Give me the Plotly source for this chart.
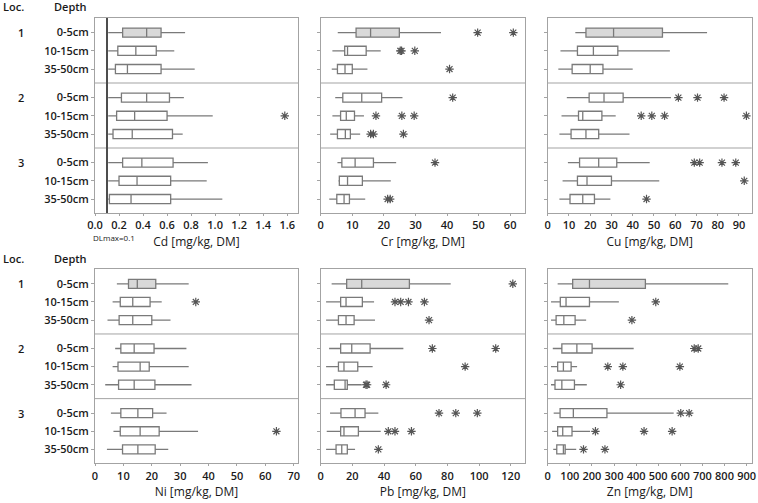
import plotly.graph_objects as go

# ---------------- data ----------------
locs = ["1", "2", "3"]
depths = ["0-5cm", "10-15cm", "35-50cm"]
# order of 9 boxes: loc1 (0-5, 10-15, 35-50), loc2 (...), loc3 (...)

cd_lo  = [0.11, 0.11, 0.11, 0.11, 0.11, 0.11, 0.11, 0.11, 0.11]
cd_q1  = [0.23, 0.19, 0.17, 0.22, 0.18, 0.15, 0.23, 0.20, 0.12]
cd_med = [0.43, 0.34, 0.27, 0.43, 0.33, 0.31, 0.39, 0.35, 0.30]
cd_q3  = [0.55, 0.51, 0.55, 0.62, 0.60, 0.645, 0.65, 0.63, 0.63]
cd_hi  = [0.75, 0.66, 0.83, 0.74, 0.98, 0.73, 0.94, 0.93, 1.06]
cd_out = [[], [], [], [], [1.58], [], [], [], []]

cr_lo  = [5.4, 3.7, 3.5, 4.6, 3.7, 3.0, 5.3, 5.6, 2.7]
cr_q1  = [11.2, 7.6, 5.3, 7.0, 6.3, 5.3, 6.7, 5.9, 5.1]
cr_med = [15.8, 8.5, 7.7, 13.0, 8.1, 7.8, 10.9, 8.5, 7.4]
cr_q3  = [24.9, 14.4, 10.0, 19.3, 10.7, 9.4, 16.7, 13.2, 9.1]
cr_hi  = [38.1, 19.0, 14.8, 25.9, 13.7, 12.5, 23.9, 22.2, 14.1]
cr_out = [[49.7, 61.0], [25.2, 25.6, 29.8], [40.8], [41.8], [17.5, 25.7, 29.6],
          [15.8, 16.7, 26.2], [36.2], [], [21.2, 22.0]]

cu_lo  = [13.0, 6.0, 5.0, 9.0, 6.5, 5.5, 9.5, 7.0, 5.5]
cu_q1  = [18.0, 14.0, 11.5, 19.5, 14.5, 11.0, 15.0, 14.0, 10.5]
cu_med = [31.0, 21.5, 20.0, 26.5, 16.5, 18.0, 24.0, 18.5, 16.5]
cu_q3  = [54.0, 33.0, 26.0, 35.5, 25.5, 24.0, 32.5, 30.0, 22.0]
cu_hi  = [75.0, 57.5, 40.0, 58.0, 32.0, 38.5, 48.0, 52.5, 29.5]
cu_out = [[], [], [], [61.5, 70.5, 83.0], [44.0, 49.0, 55.0, 93.5], [],
          [69.0, 71.5, 82.0, 88.5], [92.5], [46.5]]

ni_lo  = [7.7, 6.2, 4.4, 7.1, 6.2, 3.6, 5.6, 6.5, 4.2]
ni_q1  = [11.8, 8.9, 8.5, 9.1, 8.1, 8.3, 9.1, 8.9, 9.7]
ni_med = [14.9, 13.3, 13.3, 13.8, 15.9, 13.8, 15.1, 15.9, 15.1]
ni_q3  = [21.4, 19.4, 20.0, 20.8, 19.1, 21.1, 20.3, 22.6, 21.2]
ni_hi  = [33.0, 23.5, 26.6, 32.2, 33.0, 34.0, 25.2, 36.3, 25.8]
ni_out = [[], [35.5], [], [], [], [], [], [63.9], []]

pb_lo  = [6.9, 3.4, 3.4, 5.3, 3.4, 3.4, 5.9, 3.8, 3.4]
pb_q1  = [16.4, 12.6, 11.2, 12.6, 11.2, 8.6, 12.8, 12.6, 9.7]
pb_med = [25.9, 16.0, 16.0, 19.6, 14.7, 15.4, 21.7, 14.7, 13.3]
pb_q3  = [56.0, 26.3, 21.1, 31.2, 23.4, 16.8, 28.0, 23.8, 16.8]
pb_hi  = [82.1, 33.7, 34.3, 52.2, 32.8, 25.9, 36.4, 37.9, 21.7]
pb_out = [[121.3], [46.9, 50.5, 55.4, 65.5], [68.4], [70.5, 110.5], [91.2],
          [28.6, 29.3, 41.3], [74.7, 85.3, 98.9], [42.7, 46.9, 57.3], [36.4]]

zn_lo  = [45, 15, 15, 23, 15, 15, 27, 20, 25]
zn_q1  = [113, 57, 38, 64, 45, 33, 56, 45, 41]
zn_med = [189, 83, 73, 132, 71, 64, 116, 68, 71]
zn_q3  = [442, 189, 124, 201, 106, 121, 268, 110, 79]
zn_hi  = [817, 322, 174, 389, 133, 177, 570, 192, 129]
zn_out = [[], [489], [381], [663, 681], [272, 340, 598], [330],
          [602, 640], [216, 436, 563], [162, 259]]

titles = ["Cd [mg/kg, DM]", "Cr [mg/kg, DM]", "Cu [mg/kg, DM]",
          "Ni [mg/kg, DM]", "Pb [mg/kg, DM]", "Zn [mg/kg, DM]"]
x_ranges = [[0, 1.69], [0, 64.7], [0, 96.0], [0, 71.5], [0, 129], [0, 923]]
x_dticks = [0.2, 10, 10, 10, 20, 100]
dl_value = 0.1

panels = [
    (cd_lo, cd_q1, cd_med, cd_q3, cd_hi, cd_out),
    (cr_lo, cr_q1, cr_med, cr_q3, cr_hi, cr_out),
    (cu_lo, cu_q1, cu_med, cu_q3, cu_hi, cu_out),
    (ni_lo, ni_q1, ni_med, ni_q3, ni_hi, ni_out),
    (pb_lo, pb_q1, pb_med, pb_q3, pb_hi, pb_out),
    (zn_lo, zn_q1, zn_med, zn_q3, zn_hi, zn_out),
]

# ---------------- layout geometry ----------------
W, H = 758, 503
col_px = [(95, 298), (320.7, 525), (547.7, 751.7)]
row_px = [(18, 213), (269.3, 463.3)]
LOC_STEP = 3.565
ypos = [l * LOC_STEP + d for l in range(3) for d in range(3)]
y_range = [3 * LOC_STEP - 0.8, -0.8]
seps = [LOC_STEP - 0.8, 2 * LOC_STEP - 0.8]

LINE = "#7a7a7a"
FRAME = "#a3a3a3"
TXT = "#1a1a1a"
FONT = "Open Sans"
WEIGHT = 600

fig = go.Figure()
shapes = []
annotations = []
layout = {}

for p, (lo, q1, med, q3, hi, out) in enumerate(panels):
    r, c = divmod(p, 3)
    k = "" if p == 0 else str(p + 1)
    xa, ya = "x" + k, "y" + k
    for i in range(9):
        fig.add_trace(go.Box(
            orientation="h", y=[ypos[i]],
            q1=[q1[i]], median=[med[i]], q3=[q3[i]],
            lowerfence=[lo[i]], upperfence=[hi[i]],
            width=0.5, whiskerwidth=0, boxpoints=False,
            fillcolor="#d9d9d9" if i == 0 else "white",
            line=dict(color=LINE, width=1.3),
            xaxis=xa, yaxis=ya, showlegend=False, hoverinfo="skip"))
    ox, oy = [], []
    for i in range(9):
        for v in out[i]:
            ox.append(v)
            oy.append(ypos[i])
    if ox:
        fig.add_trace(go.Scatter(
            x=ox, y=oy, mode="markers", xaxis=xa, yaxis=ya,
            marker=dict(symbol="asterisk-open", size=7, color="#555555",
                        line=dict(color="#555555", width=1.2)),
            showlegend=False, hoverinfo="skip"))
    x0, x1 = col_px[c]
    y0, y1 = row_px[r]
    layout["xaxis" + k] = dict(
        domain=[x0 / W, x1 / W], anchor=ya, range=x_ranges[p],
        dtick=x_dticks[p], tick0=0, tickformat=".1f" if p == 0 else "d",
        showline=True, mirror=True, linecolor=FRAME, linewidth=1,
        ticks="outside", ticklen=2, tickcolor=FRAME, showgrid=False,
        zeroline=False,
        tickfont=dict(family=FONT, size=11, color=TXT, weight=WEIGHT),
        title=dict(text=titles[p], standoff=6,
                   font=dict(family=FONT, size=12, color=TXT)),
        automargin=False, fixedrange=True)
    layout["yaxis" + k] = dict(
        domain=[1 - y1 / H, 1 - y0 / H], anchor=xa, range=y_range,
        tickvals=ypos, ticktext=depths * 3, showticklabels=(c == 0),
        showline=True, mirror=True, linecolor=FRAME, linewidth=1,
        ticks="outside", ticklen=3, tickcolor=FRAME, showgrid=False,
        zeroline=False,
        tickfont=dict(family=FONT, size=11, color=TXT, weight=WEIGHT),
        automargin=False, fixedrange=True)
    for s in seps:
        shapes.append(dict(type="line", xref=xa + " domain", yref=ya,
                           x0=0, x1=1, y0=s, y1=s,
                           line=dict(color=FRAME, width=1)))
    if c == 0:
        for l in range(3):
            annotations.append(dict(text=locs[l], xref="paper", yref=ya,
                                    x=21 / W, y=ypos[3 * l], showarrow=False,
                                    xanchor="center", yanchor="middle",
                                    font=dict(family=FONT, size=11, color=TXT,
                                              weight=WEIGHT)))
        hy = 1 - (y0 - 11) / H
        annotations.append(dict(text="Loc.", xref="paper", yref="paper",
                                x=1 / W, y=hy, showarrow=False, xanchor="left",
                                yanchor="middle",
                                font=dict(family=FONT, size=11, color=TXT,
                                          weight=WEIGHT)))
        annotations.append(dict(text="Depth", xref="paper", yref="paper",
                                x=89 / W, y=hy, showarrow=False, xanchor="right",
                                yanchor="middle",
                                font=dict(family=FONT, size=11, color=TXT,
                                          weight=WEIGHT)))

# detection limit line for Cd
shapes.append(dict(type="line", xref="x", yref="y domain", x0=dl_value,
                   x1=dl_value, y0=0, y1=1,
                   line=dict(color="#4d4d4d", width=2)))
annotations.append(dict(text="DLmax=0.1", xref="x", yref="paper",
                        x=dl_value + 0.06, y=1 - 237 / H, showarrow=False,
                        xanchor="center", yanchor="middle",
                        font=dict(family=FONT, size=8, color=TXT)))

fig.update_layout(**layout)
fig.update_layout(
    width=W, height=H, margin=dict(l=0, r=0, t=0, b=0),
    paper_bgcolor="white", plot_bgcolor="white",
    shapes=shapes, annotations=annotations, showlegend=False,
    boxmode="overlay")

fig.write_html("out.html", config={"displayModeBar": False},
               post_script="document.body.style.margin='0';"
                           "document.body.style.padding='0';")
